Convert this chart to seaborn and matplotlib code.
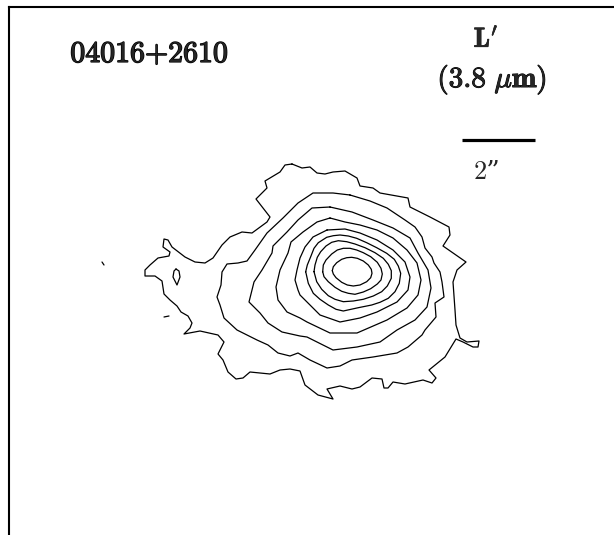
import pandas as pd
import matplotlib
matplotlib.use("Agg")
import matplotlib.pyplot as plt
import matplotlib.patheffects as pe
import seaborn as sns

# Contornos (coordenadas de la imagen), del exterior al centro
c1_x = [292, 285, 280, 265, 267, 256, 270, 267, 252, 242, 230, 222, 213, 205, 195, 185, 172, 168, 164, 163, 170, 169, 158, 150, 145, 145, 155, 162, 164, 170, 177, 181, 188, 192, 190, 184, 200, 218, 224, 218, 223, 228, 236, 243, 250, 270, 280, 290, 300, 305, 318, 333, 327, 340, 352, 360, 372, 382, 384, 388, 393, 405, 423, 432, 436, 429, 445, 456, 463, 473, 478, 479, 467, 460, 456, 455, 453, 457, 466, 443, 450, 449, 430, 410, 408, 380, 373, 360, 357, 345, 333, 325, 317, 310, 302, 292]
c1_y = [164, 165, 172, 181, 188, 199, 217, 222, 233, 232, 237, 245, 258, 263, 262, 257, 247, 240, 239, 247, 252, 256, 258, 265, 270, 276, 276, 281, 294, 300, 306, 312, 316, 323, 328, 334, 331, 335, 342, 354, 360, 372, 379, 378, 372, 374, 370, 369, 371, 385, 395, 399, 389, 386, 389, 387, 378, 379, 388, 388, 382, 384, 380, 383, 378, 370, 357, 339, 342, 347, 347, 341, 342, 338, 325, 310, 282, 270, 262, 246, 235, 227, 217, 207, 198, 193, 188, 186, 178, 171, 172, 174, 173, 167, 168, 164]
c2_x = [350, 333, 313, 298, 283, 267, 255, 247, 238, 227, 222, 221, 217, 220, 224, 237, 257, 268, 278, 290, 298, 310, 327, 340, 352, 373, 397, 408, 422, 425, 436, 435, 444, 442, 440, 434, 432, 425, 422, 415, 405, 387, 370, 350]
c2_y = [195, 193, 193, 203, 218, 233, 250, 261, 263, 264, 272, 285, 297, 305, 318, 330, 340, 345, 353, 356, 353, 360, 368, 366, 360, 357, 353, 347, 335, 330, 317, 303, 297, 282, 272, 263, 257, 248, 237, 227, 220, 208, 201, 195]
c3_x = [330, 312, 298, 287, 273, 272, 262, 254, 249, 260, 268, 282, 300, 307, 333, 357, 380, 397, 415, 427, 431, 428, 418, 410, 393, 373, 352, 330]
c3_y = [207, 208, 220, 232, 246, 253, 270, 282, 302, 313, 323, 332, 336, 337, 350, 347, 342, 330, 320, 307, 288, 270, 253, 238, 228, 220, 212, 207]
c4_x = [330, 317, 303, 291, 288, 280, 276, 278, 287, 300, 307, 330, 357, 387, 407, 418, 421, 417, 407, 393, 377, 360, 345, 330]
c4_y = [218, 222, 232, 242, 253, 270, 287, 300, 312, 318, 322, 333, 333, 320, 308, 295, 280, 263, 250, 238, 230, 225, 222, 218]
c5_x = [327, 313, 305, 300, 297, 295, 298, 300, 310, 320, 340, 360, 377, 397, 408, 410, 405, 393, 377, 360, 345, 327]
c5_y = [230, 237, 247, 258, 270, 280, 290, 295, 305, 315, 322, 318, 312, 302, 290, 277, 262, 250, 240, 233, 229, 230]
c6_x = [305.7, 307.3, 310.7, 314, 318.3, 326.7, 333.3, 340, 348.3, 356.7, 366.7, 376.7, 386.7, 394.3, 398.3, 400.7, 399.3, 395, 388.3, 380, 371.7, 358.3, 343.3, 336, 328.3, 320, 313.3, 308.3, 305.7]
c6_y = [271.7, 265, 256.7, 248.3, 242.7, 237.3, 235.7, 235, 236, 238.3, 242.7, 247.7, 253.3, 259.3, 266, 273.3, 283.3, 291.7, 298.3, 302.3, 305, 307.7, 311, 309.3, 305, 299.3, 293.3, 283.3, 271.7]
c7_x = [314, 315, 317.3, 320.7, 326, 331.7, 338.3, 346.7, 355, 365, 375, 383.3, 388.3, 391.3, 391.3, 387.3, 381.7, 373.3, 363.3, 353.3, 343.3, 335, 328.3, 321.7, 316.7, 314]
c7_y = [271.7, 265, 257.3, 251.7, 246, 242.3, 240.7, 241.7, 244, 247.7, 252.7, 258.3, 264.3, 270.7, 278.3, 286, 291.7, 296, 299.3, 301, 301.7, 299.3, 295.7, 289.3, 281.7, 271.7]
c8_x = [322.7, 323.3, 326, 331.7, 337.3, 343.3, 350, 356.7, 363.3, 370.7, 377.3, 381, 382.3, 381, 377.3, 370.7, 363.3, 355, 348.3, 341.7, 335, 328.3, 324, 322.7]
c8_y = [271.7, 265, 260, 254, 250, 248.3, 248.3, 250, 252.7, 256.7, 262.3, 268.3, 274, 280, 284, 288.7, 292, 294.3, 293.3, 291.3, 287.3, 281.7, 276.7, 271.7]
c9_x = [332.3, 333.3, 336.7, 341.7, 346.7, 351.7, 357.3, 363.3, 368.3, 371.3, 372, 370.7, 366.7, 360, 353.3, 347.3, 341.7, 336, 333.3, 332.3]
c9_y = [270.7, 266.7, 262.7, 259.3, 257.7, 257.3, 258.3, 261, 265, 269.3, 273.3, 277.7, 281.7, 285, 286, 285, 282.3, 277.7, 274, 270.7]

# Islas pequenas al oeste
isla_x = [176, 179, 180, 177, 173, 174, 176]
isla_y = [269, 271, 277, 285, 277, 271, 269]
punto_x = [102, 104]
punto_y = [262, 265]
raya_x = [164, 169]
raya_y = [317, 316]

contornos = {"c1": (c1_x, c1_y), "c2": (c2_x, c2_y), "c3": (c3_x, c3_y),
             "c4": (c4_x, c4_y), "c5": (c5_x, c5_y), "c6": (c6_x, c6_y),
             "c7": (c7_x, c7_y), "c8": (c8_x, c8_y), "c9": (c9_x, c9_y),
             "isla": (isla_x, isla_y), "punto": (punto_x, punto_y), "raya": (raya_x, raya_y)}

df = pd.concat([pd.DataFrame({"x": v[0], "y": v[1], "nivel": k}) for k, v in contornos.items()])

sns.set_theme(style="white")
plt.rcParams["mathtext.fontset"] = "cm"

fig = plt.figure(figsize=(6.14, 5.35), dpi=100)
ax = fig.add_axes([9 / 614, 0, 605 / 614, 528 / 535])

sns.lineplot(data=df, x="x", y="y", units="nivel", estimator=None, sort=False,
             color="black", linewidth=0.9, ax=ax)

ax.set_xlim(9, 614)
ax.set_ylim(535, 7)
ax.set_xlabel("")
ax.set_ylabel("")
ax.set_xticks([])
ax.set_yticks([])
for lado in ["right", "bottom"]:
    ax.spines[lado].set_visible(False)
for lado in ["left", "top"]:
    ax.spines[lado].set_color("black")
    ax.spines[lado].set_linewidth(1.5)

# Barra de escala y rotulos
negrita = [pe.withStroke(linewidth=1.0, foreground="black")]
ax.plot([462, 535], [140, 140], color="black", linewidth=2.3, solid_capstyle="butt")
ax.text(149.5, 62, r"$\mathrm{04016{+}2610}$", fontsize=21.5, ha="center", va="baseline", path_effects=negrita)
ax.text(486, 47, r"$\mathbf{L}^{\prime}$", fontsize=20, ha="center", va="baseline",
        path_effects=[pe.withStroke(linewidth=0.4, foreground="black")])
ax.text(492, 87, r"$\mathbf{(3.8}\ \mu\mathbf{m)}$", fontsize=21, ha="center", va="baseline",
        path_effects=[pe.withStroke(linewidth=0.7, foreground="black")])
ax.text(487, 179, "2”", fontsize=19, ha="center", va="baseline", family=["cmr10", "DejaVu Serif"])

fig.savefig("out.png", dpi=100)
